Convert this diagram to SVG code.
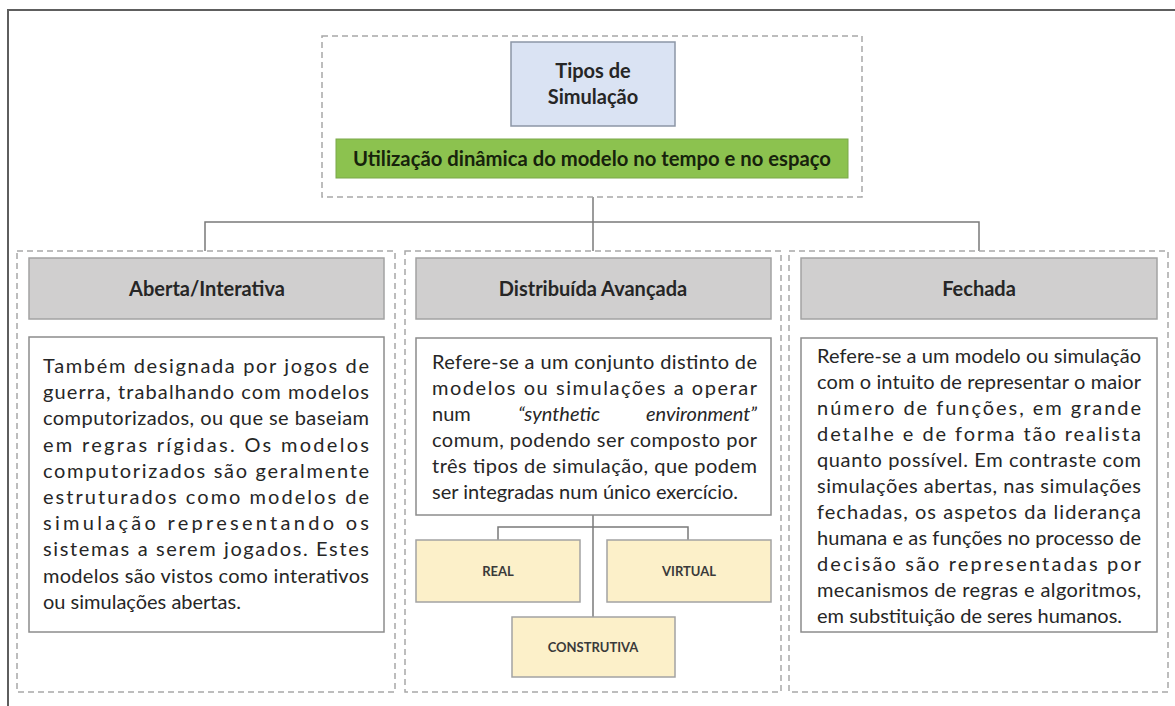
<svg xmlns="http://www.w3.org/2000/svg" width="1175" height="706" viewBox="0 0 1175 706">
<style>
.frame{fill:none;stroke:#5e5e5e;stroke-width:2}
.dash{fill:none;stroke:#a8a8a8;stroke-width:1.5;stroke-dasharray:6 4}
.hdr{fill:#d0cfcf;stroke:#a3a3a3;stroke-width:1.5}
.box{fill:#ffffff;stroke:#8c8c8c;stroke-width:1.5}
.sub{fill:#fcf0c9;stroke:#a3a3a3;stroke-width:1.5}
.conn{fill:none;stroke:#7a7a7a;stroke-width:1.5}
text{font-family:Lato,"Noto Sans",sans-serif;fill:#262626}
.t{font-size:20px;font-weight:bold;text-anchor:middle}
.body{font-size:20px}
.lbl{font-size:13px;font-weight:bold;text-anchor:middle;fill:#3a3a3a}
</style>
<rect width="1175" height="706" fill="#ffffff"/>
<path class="frame" d="M8,706 V10 H1175"/>

<g id="connectors">
<path class="conn" d="M593,197 V251"/>
<path class="conn" d="M205,251 V222 H979 V251"/>
<path class="conn" d="M593,515 V617"/>
<path class="conn" d="M498,540 V527 H688 V540"/>
</g>

<g id="top">
<rect class="dash" x="322" y="36" width="540" height="161"/>
</g>
<g id="tipos">
<rect x="511" y="42" width="164" height="84" fill="#dae3f3" stroke="#8c96a6" stroke-width="1.5"/>
<text class="t" x="593" y="78">Tipos de</text>
<text class="t" x="593" y="104">Simulação</text>
</g>
<g id="utilizacao">
<rect x="336" y="139" width="512" height="39" fill="#8cc24f" stroke="#7aa84a" stroke-width="1"/>
<text class="t" x="592" y="166" fill="#17230c" style="fill:#17230c" textLength="478" lengthAdjust="spacingAndGlyphs">Utilização dinâmica do modelo no tempo e no espaço</text>
</g>

<g id="aberta">
<rect class="dash" x="17" y="251" width="378" height="441"/>
<rect class="hdr" x="29" y="258" width="355" height="61"/>
<text class="t" x="207" y="296">Aberta/Interativa</text>
<rect class="box" x="29" y="337" width="355" height="295"/>
<g class="body">
<text x="43" y="373" textLength="326" lengthAdjust="spacing">Também designada por jogos de</text>
<text x="43" y="399.2" textLength="326" lengthAdjust="spacing">guerra, trabalhando com modelos</text>
<text x="43" y="425.4" textLength="326" lengthAdjust="spacing">computorizados, ou que se baseiam</text>
<text x="43" y="451.6" textLength="326" lengthAdjust="spacing">em regras rígidas. Os modelos</text>
<text x="43" y="477.8" textLength="326" lengthAdjust="spacing">computorizados são geralmente</text>
<text x="43" y="504" textLength="326" lengthAdjust="spacing">estruturados como modelos de</text>
<text x="43" y="530.2" textLength="326" lengthAdjust="spacing">simulação representando os</text>
<text x="43" y="556.4" textLength="326" lengthAdjust="spacing">sistemas a serem jogados. Estes</text>
<text x="43" y="582.6" textLength="326" lengthAdjust="spacing">modelos são vistos como interativos</text>
<text x="43" y="608.8">ou simulações abertas.</text>
</g>
</g>

<g id="distribuida">
<rect class="dash" x="405" y="251" width="376" height="441"/>
<rect class="hdr" x="416" y="258" width="355" height="61"/>
<text class="t" x="593" y="296">Distribuída Avançada</text>
<rect class="box" x="416" y="338" width="355" height="177"/>
<g class="body">
<text x="432" y="369" textLength="325" lengthAdjust="spacing">Refere-se a um conjunto distinto de</text>
<text x="432" y="395" textLength="325" lengthAdjust="spacing">modelos ou simulações a operar</text>
<text x="432" y="421">num</text>
<text x="518" y="421" font-style="italic">“synthetic</text>
<text x="757" y="421" font-style="italic" text-anchor="end">environment”</text>
<text x="432" y="447" textLength="325" lengthAdjust="spacing">comum, podendo ser composto por</text>
<text x="432" y="473" textLength="325" lengthAdjust="spacing">três tipos de simulação, que podem</text>
<text x="432" y="499">ser integradas num único exercício.</text>
</g>
</g>
<g id="real">
<rect class="sub" x="416" y="540" width="164" height="62"/>
<text class="lbl" x="498" y="576">REAL</text>
</g>
<g id="virtual">
<rect class="sub" x="607" y="540" width="164" height="62"/>
<text class="lbl" x="689" y="576">VIRTUAL</text>
</g>
<g id="construtiva">
<rect class="sub" x="512" y="617" width="163" height="60"/>
<text class="lbl" x="593" y="652">CONSTRUTIVA</text>
</g>

<g id="fechada">
<rect class="dash" x="789" y="251" width="379" height="441"/>
<rect class="hdr" x="801" y="258" width="356" height="61"/>
<text class="t" x="979" y="296">Fechada</text>
<rect class="box" x="801" y="338" width="356" height="294"/>
<g class="body">
<text x="817" y="363" textLength="324" lengthAdjust="spacing">Refere-se a um modelo ou simulação</text>
<text x="817" y="389" textLength="324" lengthAdjust="spacing">com o intuito de representar o maior</text>
<text x="817" y="415" textLength="324" lengthAdjust="spacing">número de funções, em grande</text>
<text x="817" y="441" textLength="324" lengthAdjust="spacing">detalhe e de forma tão realista</text>
<text x="817" y="467" textLength="324" lengthAdjust="spacing">quanto possível. Em contraste com</text>
<text x="817" y="493" textLength="324" lengthAdjust="spacing">simulações abertas, nas simulações</text>
<text x="817" y="519" textLength="324" lengthAdjust="spacing">fechadas, os aspetos da liderança</text>
<text x="817" y="545" textLength="324" lengthAdjust="spacing">humana e as funções no processo de</text>
<text x="817" y="571" textLength="324" lengthAdjust="spacing">decisão são representadas por</text>
<text x="817" y="597" textLength="324" lengthAdjust="spacing">mecanismos de regras e algoritmos,</text>
<text x="817" y="623">em substituição de seres humanos.</text>
</g>
</g>
</svg>
